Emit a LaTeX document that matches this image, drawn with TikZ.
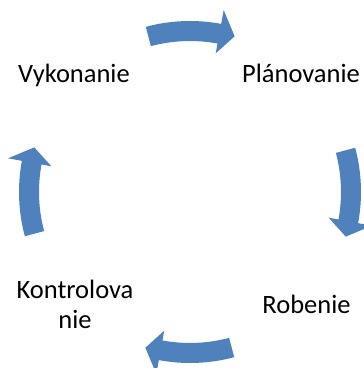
\documentclass[tikz,border=0pt]{standalone}
\usepackage{fontspec}
\setmainfont{Carlito}
\definecolor{cycleblue}{RGB}{79,129,189}
\newcommand\cyclearr[2]{%
  \begin{scope}[shift={#2}]
  \fill[arrowfill] ([shift={(#1+15:171)}]C) arc[start angle=#1+15, end angle=#1-10.5, radius=171]
    -- ([shift={(#1-10.5:185)}]C) -- ([shift={(#1-16:162)}]C) -- ([shift={(#1-10.5:141)}]C)
    -- ([shift={(#1-10.5:151)}]C) arc[start angle=#1-10.5, end angle=#1+15, radius=151] -- cycle;
  \end{scope}}
\begin{document}
\begin{tikzpicture}[x=1pt,y=1pt,
  arrowfill/.style={fill=cycleblue},
  label/.style={font=\fontsize{26.5}{31}\selectfont, text=black, inner sep=0pt, anchor=base, align=center}]
\useasboundingbox (0,0) rectangle (364,368);
\coordinate (C) at (190,176);
\cyclearr{90}{(0,0)}
\cyclearr{0}{(3,0)}
\cyclearr{270}{(0,0)}
\cyclearr{180}{(0,0)}
\node[label] (vyk) at (74,286) {Vykonanie};
\node[label] (plan) at (301,286) {Plánovanie};
\node[label] (rob) at (306.5,54) {Robenie};
\node[label] (kon) at (75,39) {Kontrolova\\nie};
\end{tikzpicture}
\end{document}
